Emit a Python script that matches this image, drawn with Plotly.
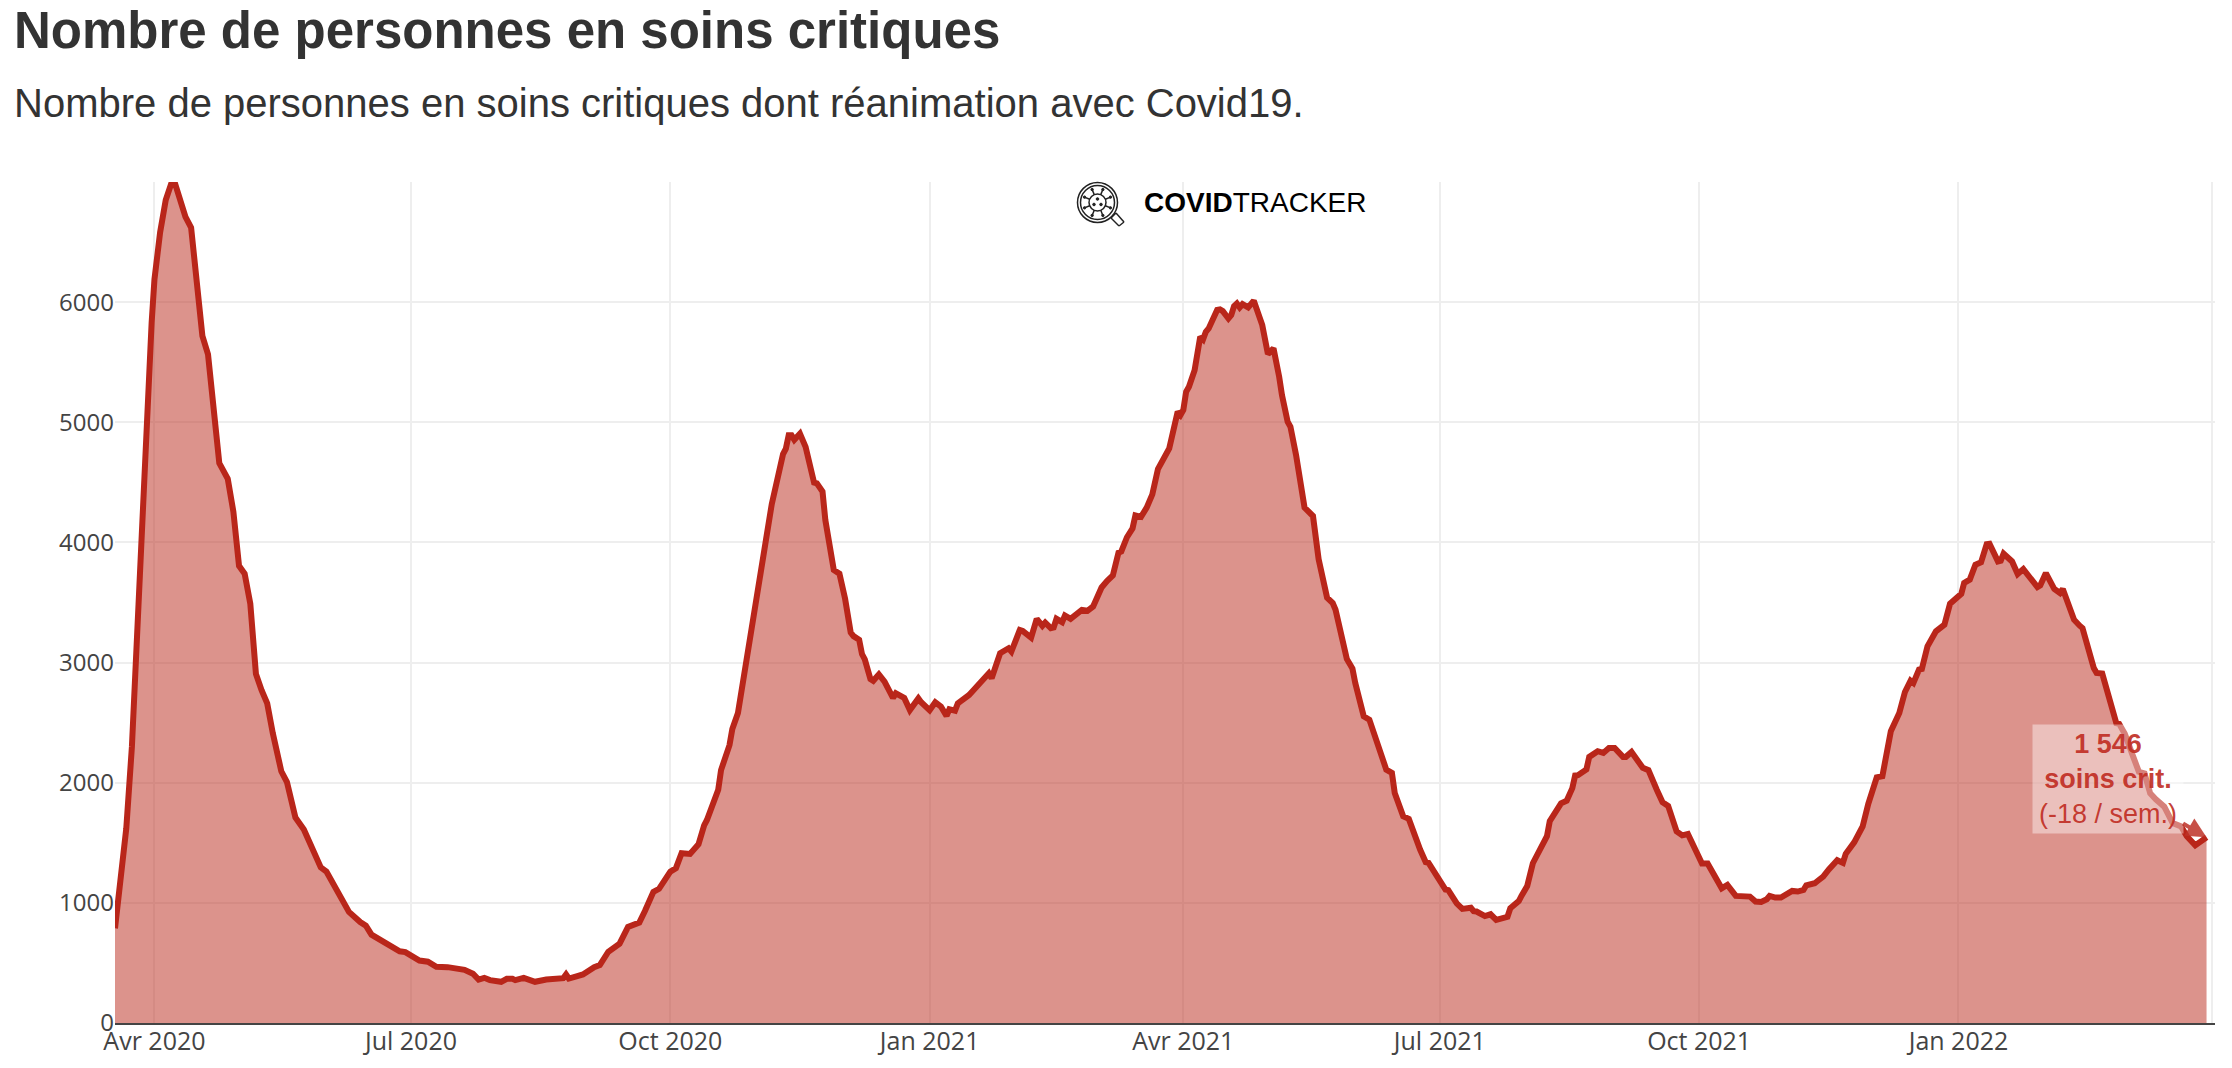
import math
import pandas as pd
import plotly.graph_objects as go

titre = "Nombre de personnes en soins critiques"
sous_titre = "Nombre de personnes en soins critiques dont réanimation avec Covid19."
date_origine = "2020-04-01"
jours = [-14,-10,-8,-7,-5,-3,-1,0,2,4,6,7,9,11,13,14,15,17,19,20,23,26,28,30,32,34,36,38,40,42,45,47,50,53,56,59,61,65,67,69,73,75,77,80,84,87,89,94,97,100,104,110,113,115,117,119,123,125,127,128,131,135,139,145,146,147,150,152,156,158,161,165,168,170,172,174,177,179,183,185,187,190,193,195,196,200,201,204,205,207,209,214,219,223,224,225,226,227,229,231,234,235,237,238,241,243,245,247,248,250,251,252,254,255,257,259,262,263,266,268,271,272,275,277,279,281,282,284,285,289,293,296,297,300,303,304,307,308,311,313,315,316,318,319,320,322,323,325,329,331,333,336,338,340,342,343,345,347,348,350,352,354,356,357,360,363,364,365,366,367,369,371,372,373,374,377,378,379,381,382,383,384,385,386,388,390,393,395,397,399,400,402,403,405,406,408,409,411,413,416,418,419,423,425,426,428,429,431,437,439,440,443,445,449,451,452,458,459,462,464,467,468,469,472,474,476,480,481,484,485,487,489,494,495,499,501,503,504,505,508,509,512,514,516,518,521,522,524,528,530,532,533,535,537,540,542,544,549,551,556,558,561,566,568,570,572,573,575,577,581,583,585,586,589,590,592,594,597,599,600,603,605,606,608,610,611,613,616,619,621,623,624,626,627,629,632,635,637,641,642,644,646,648,650,651,654,655,656,659,661,663,668,669,671,674,676,677,681,683,684,688,689,691,696,697,699,702,704,706,708,710,713,716,719,721,724,726,728]
valeurs = [788,1620,2300,2830,3940,5030,5830,6190,6580,6850,6990,7010,6870,6710,6620,6375,6105,5720,5565,5350,4660,4530,4255,3805,3740,3490,2905,2770,2660,2410,2095,2005,1710,1610,1465,1295,1260,1080,1015,925,840,810,735,690,635,597,590,520,510,468,465,443,410,362,376,357,343,368,368,357,376,343,362,373,404,370,390,404,465,482,593,660,800,822,836,932,1092,1117,1260,1289,1413,1407,1487,1645,1690,1942,2105,2313,2447,2581,2878,3576,4320,4735,4780,4893,4893,4854,4905,4795,4498,4492,4423,4186,3770,3740,3532,3250,3220,3190,3071,3027,2863,2848,2902,2842,2706,2744,2706,2605,2702,2670,2603,2670,2634,2556,2611,2600,2661,2730,2833,2911,2870,3078,3119,3092,3272,3264,3208,3364,3306,3333,3286,3292,3364,3336,3392,3364,3439,3431,3467,3625,3680,3725,3915,3925,4043,4118,4225,4213,4290,4400,4610,4658,4783,5088,5060,5102,5254,5296,5434,5712,5690,5753,5781,5935,5939,5925,5864,5892,5967,5989,5956,5983,5956,6011,5809,5568,5615,5379,5226,5005,4963,4727,4600,4290,4266,4220,3860,3540,3495,3440,3030,2950,2830,2664,2553,2525,2109,2082,1915,1721,1699,1444,1339,1333,1111,1106,995,950,959,931,928,890,905,858,884,955,1015,1060,1140,1330,1555,1680,1828,1850,1955,2060,2063,2110,2215,2262,2248,2289,2289,2215,2215,2256,2124,2105,1972,1940,1837,1807,1595,1562,1573,1328,1328,1121,1149,1058,1052,1011,1008,1030,1058,1044,1044,1099,1094,1107,1146,1163,1182,1218,1278,1355,1333,1408,1504,1609,1636,1825,1950,2045,2055,2428,2581,2755,2849,2830,2941,2947,3135,3260,3315,3490,3573,3662,3690,3814,3834,3986,3989,3842,3848,3906,3842,3737,3778,3628,3642,3745,3612,3579,3612,3357,3307,3287,2955,2913,2908,2495,2490,2408,2215,2091,2077,1912,1862,1800,1664,1636,1554,1479,1512,1546]
x_ticks = ["2020-04-01","2020-07-01","2020-10-01","2021-01-01","2021-04-01","2021-07-01","2021-10-01","2022-01-01","2022-04-01"]
x_labels = ["Avr 2020","Jul 2020","Oct 2020","Jan 2021","Avr 2021","Jul 2021","Oct 2021","Jan 2022",""]
y_ticks = [0,1000,2000,3000,4000,5000,6000,7000]
y_labels = ["0","1000","2000","3000","4000","5000","6000",""]
texte_annotation = "<b>1 546</b><br><b>soins crit.</b><br>(-18 / sem.)"

dates = pd.Timestamp(date_origine) + pd.to_timedelta(jours, unit="D")

W, H = 2232, 1068
L, R, T, B = 115, 2215, 182, 1023.5
ROUGE = "#b9261a"

def fx(p): return (p - L) / (R - L)
def fy(p): return (B - p) / (B - T)

fig = go.Figure(go.Scatter(
    x=dates, y=valeurs, mode="lines", fill="tozeroy",
    line=dict(color=ROUGE, width=6, shape="linear"),
    fillcolor="rgba(185,39,25,0.5)", hoverinfo="x+y", cliponaxis=True))

# Logo COVIDTRACKER : loupe et virus
logo = []
def cercle(cx, cy, r, w=1.5, fill=None):
    logo.append(dict(type="circle", xref="paper", yref="paper",
                     x0=fx(cx-r), x1=fx(cx+r), y0=fy(cy+r), y1=fy(cy-r),
                     line=dict(color="#222", width=w), fillcolor=fill, layer="above"))
def trait(x0, y0, x1, y1, w=1.5):
    logo.append(dict(type="line", xref="paper", yref="paper",
                     x0=fx(x0), x1=fx(x1), y0=fy(y0), y1=fy(y1),
                     line=dict(color="#222", width=w), layer="above"))
cx, cy = 1097.5, 202.5
cercle(cx, cy, 20, 1.5)
cercle(cx, cy, 17, 1.5)
cercle(cx, cy, 8.5, 1.5)
for k in range(8):
    a = k * math.pi / 4 + math.pi / 8
    trait(cx + 8.5*math.cos(a), cy + 8.5*math.sin(a), cx + 13.5*math.cos(a), cy + 13.5*math.sin(a), 1.5)
    cercle(cx + 14*math.cos(a), cy + 14*math.sin(a), 1.2, 1, "#222")
for dx, dy in [(0, -3.5), (-3.5, 2), (3.5, 2)]:
    cercle(cx + dx, cy + dy, 1.3, 1, "#222")
for a, b in [((1111, 218), (1119, 226)), ((1116, 213), (1124, 222)),
             ((1119, 226), (1124, 222)), ((1111, 218), (1116, 213))]:
    trait(a[0], a[1], b[0], b[1], 1.5)

fig.update_layout(
    width=W, height=H, autosize=False,
    margin=dict(l=L, r=W-R, t=T, b=H-B, pad=0, autoexpand=False),
    paper_bgcolor="white", plot_bgcolor="white", showlegend=False,
    font=dict(family="Open Sans", size=24, color="#444"),
    title=dict(text=f"<b>{titre}</b>", xref="container", yref="container",
               x=14/W, xanchor="left", y=1-30/H, yanchor="middle",
               font=dict(family="Liberation Sans", size=51, color="#333")),
    xaxis=dict(type="date", range=["2020-03-18", "2022-04-02"], automargin=False,
               tickmode="array", tickvals=x_ticks, ticktext=x_labels,
               showgrid=True, gridcolor="#eee", gridwidth=2, zeroline=False,
               showline=True, linecolor="#444", linewidth=2, ticks="", ticklabelstandoff=-5,
               tickfont=dict(family="Open Sans", size=25, color="#444")),
    yaxis=dict(range=[0, 7000], tickmode="array", tickvals=y_ticks, ticktext=y_labels, automargin=False,
               showgrid=True, gridcolor="#eee", gridwidth=2, zeroline=False,
               showline=False, ticks="",
               tickfont=dict(family="Open Sans", size=24, color="#444")),
    shapes=logo,
    annotations=[
        dict(xref="paper", yref="paper", x=fx(12), y=fy(103), xanchor="left", yanchor="middle",
             text=sous_titre, showarrow=False,
             font=dict(family="Liberation Sans", size=40, color="#333")),
        dict(xref="paper", yref="paper", x=fx(1142), y=fy(203), xanchor="left", yanchor="middle",
             text="<b>COVID</b>TRACKER", showarrow=False,
             font=dict(family="Liberation Sans", size=28, color="#000")),
        dict(x=dates[-1], y=valeurs[-1], xref="x", yref="y", text=texte_annotation,
             showarrow=True, ax=-99, ay=-58, axref="pixel", ayref="pixel",
             arrowhead=2, arrowsize=1, arrowwidth=4, arrowcolor="rgba(190,50,40,0.85)",
             width=150, height=108, bgcolor="rgba(255,255,255,0.42)", borderpad=0,
             font=dict(family="Liberation Sans", size=27, color="rgba(192,45,35,0.92)")),
    ],
)
fig.write_html("out.html", config={"displayModeBar": False},
               post_script="document.body.style.margin='0';")
